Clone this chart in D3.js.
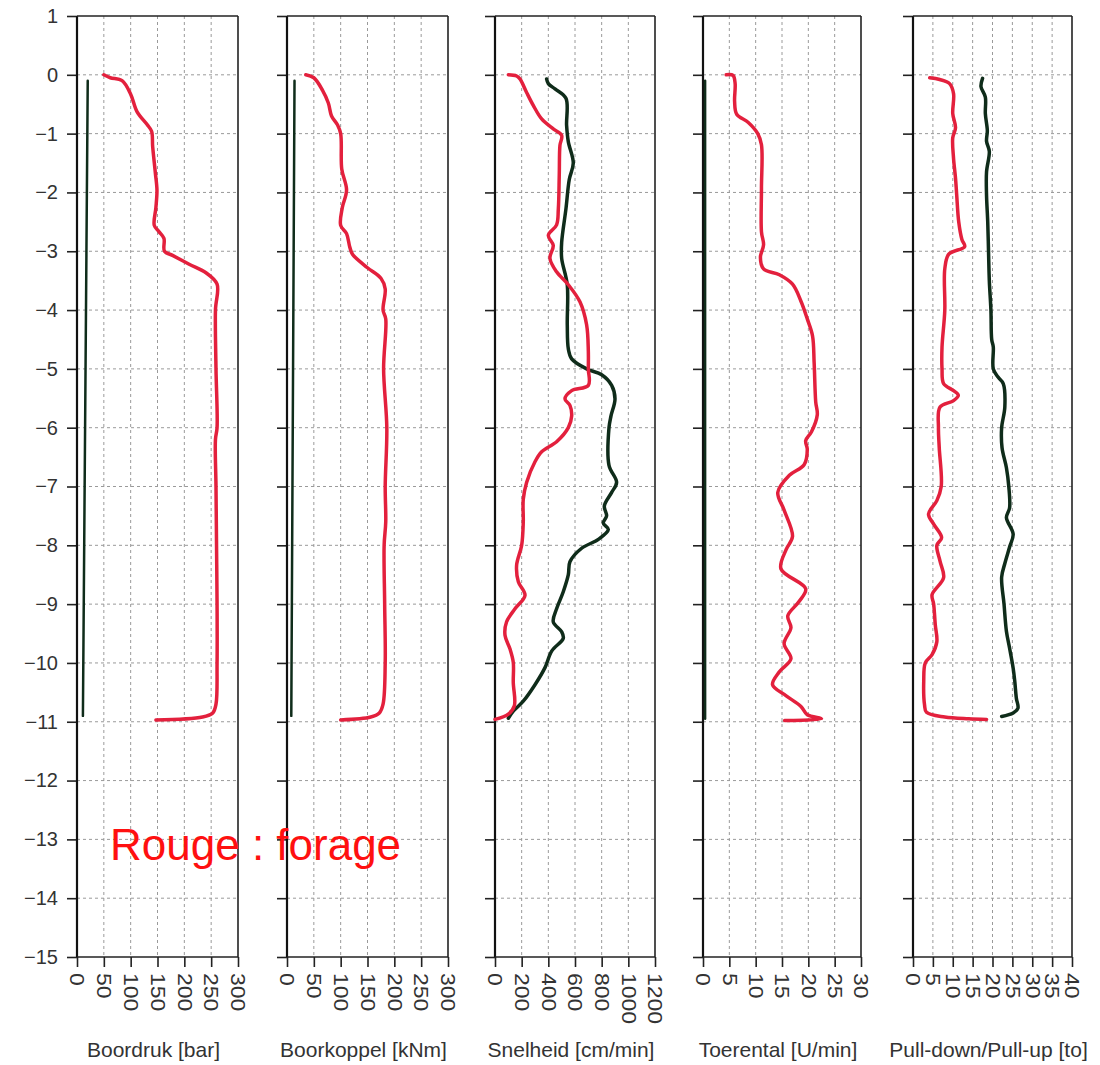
<!DOCTYPE html>
<html>
<head>
<meta charset="utf-8">
<script src="https://cdn.jsdelivr.net/npm/d3@7"></script>
<style>
  html, body { margin: 0; padding: 0; background: #fff; }
  svg { display: block; font-family: "Liberation Sans", Arial, sans-serif; }
  .grid line { stroke: #9a9a9a; stroke-width: 1; stroke-dasharray: 3,3; }
  .tk text { fill: #333; font-size: 19px; }
  .tk line, .tk path { stroke: #222; }
</style>
</head>
<body>
<svg id="chart" width="1100" height="1065"></svg>
<script>
// depth axis (m) shared by all five tracks
const depthTicks = [1, 0, -1, -2, -3, -4, -5, -6, -7, -8, -9, -10, -11, -12, -13, -14, -15];

// x tick labels per track
const drukTicks = [0, 50, 100, 150, 200, 250, 300];
const koppelTicks = [0, 50, 100, 150, 200, 250, 300];
const snelTicks = [0, 200, 400, 600, 800, 1000, 1200];
const toerTicks = [0, 5, 10, 15, 20, 25, 30];
const pullTicks = [0, 5, 10, 15, 20, 25, 30, 35, 40];

const titles = ['Boordruk [bar]', 'Boorkoppel [kNm]', 'Snelheid [cm/min]', 'Toerental [U/min]', 'Pull-down/Pull-up [to]'];

// [depth, value] pairs, red = forage (drilling), green = extraction
const drukRood = [[0,50],[-0.05,62],[-0.1,84],[-0.33,100],[-0.63,112],[-0.85,131],[-0.96,139],[-1.22,141],[-1.67,146],
  [-1.96,149],[-2.26,147],[-2.56,144],[-2.67,153],[-2.78,162],[-3.0,163],[-3.07,178],[-3.22,209],[-3.37,241],[-3.56,261],
  [-4.0,258],[-5.0,259],[-6.0,261],[-6.2,258],[-7.0,259],[-8.0,260],[-9.0,261],[-10.0,261],[-10.7,259],[-10.85,253],
  [-10.92,234],[-10.97,147]];
const drukGroen = [[-0.1,20],[-10.9,11]];

const koppelRood = [[0,35],[-0.05,50],[-0.26,66],[-0.48,77],[-0.7,83],[-0.85,94],[-1.0,100],[-1.6,102],[-1.96,111],
  [-2.26,103],[-2.56,100],[-2.7,111],[-2.93,117],[-3.05,122],[-3.28,150],[-3.46,175],[-3.64,183],[-4.0,179],[-4.15,184],
  [-5.0,180],[-6.0,186],[-7.0,183],[-7.6,184],[-8.0,181],[-9.0,182],[-10.0,183],[-10.7,179],[-10.85,172],[-10.92,156],
  [-10.97,100]];
const koppelGroen = [[-0.1,14],[-10.9,8]];

const snelRood = [[0,100],[-0.02,162],[-0.07,187],[-0.3,237],[-0.52,287],[-0.75,350],[-0.92,437],[-1.03,500],[-1.2,487],
  [-1.7,482],[-2.28,475],[-2.55,462],[-2.73,400],[-2.9,437],[-3.12,412],[-3.35,462],[-3.57,550],[-3.86,637],[-4.25,687],
  [-4.7,700],[-5.0,700],[-5.28,700],[-5.37,575],[-5.51,525],[-5.62,562],[-5.8,575],[-6.0,550],[-6.24,462],[-6.41,350],
  [-6.58,300],[-6.93,237],[-7.22,212],[-7.61,212],[-8.0,200],[-8.34,162],[-8.62,175],[-8.85,225],[-9.08,150],[-9.3,87],
  [-9.53,75],[-9.76,112],[-9.99,137],[-10.33,137],[-10.73,145],[-10.87,100],[-10.96,0]];
const snelGroen = [[-0.07,387],[-0.15,400],[-0.24,450],[-0.4,532],[-0.86,537],[-1.14,550],[-1.5,587],[-1.78,557],
  [-2.28,532],[-2.85,500],[-3.12,500],[-3.57,542],[-4.25,542],[-4.66,550],[-4.83,575],[-5.0,687],[-5.1,800],[-5.28,875],
  [-5.51,900],[-5.8,870],[-6.0,855],[-6.64,855],[-6.93,912],[-7.1,875],[-7.33,820],[-7.5,837],[-7.62,812],[-7.73,850],
  [-7.9,775],[-8.05,650],[-8.28,562],[-8.5,550],[-8.79,512],[-9.08,462],[-9.3,437],[-9.47,500],[-9.58,512],[-9.8,425],
  [-10.08,375],[-10.37,300],[-10.65,212],[-10.82,137],[-10.94,100]];

const toerRood = [[0,4.4],[-0.01,5.7],[-0.15,6.1],[-0.45,6.0],[-0.67,6.4],[-0.81,8.6],[-1.0,10.4],[-1.19,11.1],[-1.93,11.1],
  [-2.67,11.1],[-2.89,11.5],[-3.1,10.9],[-3.3,11.5],[-3.4,14.5],[-3.56,17],[-3.85,18.6],[-4.15,19.8],[-4.44,20.8],
  [-4.89,21.1],[-5.56,21.4],[-5.78,21.7],[-6.07,20.6],[-6.22,19.5],[-6.37,19.8],[-6.63,19.2],[-6.81,16.4],[-7.1,14.2],
  [-7.4,15.4],[-7.85,17],[-8.07,15.8],[-8.4,14.8],[-8.74,19.5],[-8.96,18.2],[-9.2,16.1],[-9.4,16.7],[-9.67,15.4],
  [-9.93,16.7],[-10.15,14.5],[-10.37,13.2],[-10.56,15.8],[-10.74,18.6],[-10.88,19.8],[-10.95,22.5],[-10.98,15.5]];
const toerGroen = [[-0.1,0.4],[-10.95,0.4]];

const pullRood = [[-0.05,4.2],[-0.08,6.7],[-0.15,9.2],[-0.32,10.2],[-0.66,10],[-0.9,10.7],[-1.07,10],[-1.42,10.2],
  [-1.76,10.7],[-2.05,11],[-2.5,11.5],[-2.8,12.3],[-2.92,13],[-3.05,9],[-3.3,8],[-4.0,8],[-4.63,7.3],[-5.0,7.3],
  [-5.25,7.7],[-5.37,10.2],[-5.45,11.4],[-5.54,10.2],[-5.65,6.8],[-6.0,6.4],[-6.34,6.6],[-7.0,7.1],[-7.24,6],[-7.47,3.9],
  [-7.64,5.2],[-7.87,7.2],[-8.0,6],[-8.27,6.8],[-8.55,7.7],[-8.84,4.8],[-9.0,5.2],[-9.35,5.6],[-9.64,6],[-9.86,4.8],
  [-10.0,3.1],[-10.31,2.7],[-10.71,2.9],[-10.84,3.4],[-10.92,8],[-10.95,14],[-10.96,18.5]];
const pullGroen = [[-0.06,17.5],[-0.2,17.1],[-0.38,18.2],[-0.66,18.2],[-0.95,18.7],[-1.13,18.5],[-1.3,19.2],[-1.65,18.5],
  [-2.05,18.5],[-2.5,18.8],[-3.0,19.0],[-3.5,19.2],[-4.0,19.6],[-4.5,19.8],[-4.63,20.2],[-5.0,20.2],[-5.14,21.4],
  [-5.25,22.7],[-5.65,23.1],[-6.0,22.3],[-6.34,22.4],[-6.68,23.5],[-7.0,24.1],[-7.36,24.3],[-7.53,23.5],[-7.81,25.2],
  [-8.03,24.3],[-8.31,23.1],[-8.54,22.3],[-9.0,22.9],[-9.46,23.5],[-9.75,24.3],[-10.09,25.2],[-10.31,25.6],[-10.6,26],
  [-10.77,26.4],[-10.85,25.2],[-10.91,22.3]];

const RED = '#e3203d', GREEN = '#0f2c1a';

// track layout: left/right pixel edges
const tracks = [
  { x0: 77,  x1: 238,  ticks: drukTicks,   red: drukRood,   green: drukGroen,   gw: 2.5 },
  { x0: 287, x1: 448,  ticks: koppelTicks, red: koppelRood, green: koppelGroen, gw: 2.5 },
  { x0: 495, x1: 655,  ticks: snelTicks,   red: snelRood,   green: snelGroen,   gw: 3.5 },
  { x0: 703, x1: 861,  ticks: toerTicks,   red: toerRood,   green: toerGroen,   gw: 2.5 },
  { x0: 913, x1: 1072, ticks: pullTicks,   red: pullRood,   green: pullGroen,   gw: 3.5 }
];

const svg = d3.select('#chart');
const y = d3.scaleLinear().domain([-15, 1]).range([957, 16]);

tracks.forEach((t, i) => {
  const x = d3.scaleLinear().domain([t.ticks[0], t.ticks[t.ticks.length - 1]]).range([t.x0, t.x1]);
  const g = svg.append('g');

  // dashed grid
  const grid = g.append('g').attr('class', 'grid');
  grid.selectAll('line.v').data(t.ticks.slice(1, -1)).join('line')
    .attr('x1', d => x(d)).attr('x2', d => x(d)).attr('y1', y(1)).attr('y2', y(-15));
  grid.selectAll('line.h').data(depthTicks.slice(1, -1)).join('line')
    .attr('x1', t.x0).attr('x2', t.x1).attr('y1', d => y(d)).attr('y2', d => y(d));

  // depth axis (labels only on first track)
  const ya = g.append('g').attr('class', 'tk').attr('transform', `translate(${t.x0},0)`)
    .call(d3.axisLeft(y).tickValues(depthTicks).tickSize(10).tickPadding(9)
      .tickFormat(i === 0 ? d3.format('d') : ''));
  ya.select('.domain').remove();
  ya.selectAll('line').attr('stroke-width', 1.6);
  ya.selectAll('text').style('font-size', '20px');

  // bottom value axis, rotated labels
  const xa = g.append('g').attr('class', 'tk').attr('transform', `translate(0,${y(-15)})`)
    .call(d3.axisBottom(x).tickValues(t.ticks).tickSize(10).tickFormat(d3.format('d')));
  xa.select('.domain').remove();
  xa.selectAll('line').attr('stroke-width', 1.6);
  xa.selectAll('text')
    .attr('y', 0).attr('x', 0).attr('dy', '0.36em')
    .attr('text-anchor', 'start')
    .style('font-size', '20px')
    .attr('transform', 'translate(0,16) rotate(90) scale(1.15,1)');

  // frame
  g.append('line').attr('x1', t.x0).attr('x2', t.x0).attr('y1', y(1)).attr('y2', y(-15))
    .attr('stroke', '#111').attr('stroke-width', 2.2);
  g.append('line').attr('x1', t.x1).attr('x2', t.x1).attr('y1', y(1)).attr('y2', y(-15))
    .attr('stroke', '#222').attr('stroke-width', 1.6);
  g.append('line').attr('x1', t.x0).attr('x2', t.x1).attr('y1', y(1)).attr('y2', y(1))
    .attr('stroke', '#222').attr('stroke-width', 1.6);
  g.append('line').attr('x1', t.x0).attr('x2', t.x1).attr('y1', y(-15)).attr('y2', y(-15))
    .attr('stroke', '#222').attr('stroke-width', 1.6);

  const line = d3.line().x(d => x(d[1])).y(d => y(d[0])).curve(d3.curveCatmullRom.alpha(0.5));
  g.append('path').attr('d', line(t.green)).attr('fill', 'none')
    .attr('stroke', GREEN).attr('stroke-width', t.gw).attr('stroke-linecap', 'round');
  g.append('path').attr('d', line(t.red)).attr('fill', 'none')
    .attr('stroke', RED).attr('stroke-width', 3.5).attr('stroke-linejoin', 'round').attr('stroke-linecap', 'round');

  g.append('text').attr('x', (t.x0 + t.x1) / 2 - 4).attr('y', 1057)
    .attr('text-anchor', 'middle').attr('fill', '#333').style('font-size', '21px')
    .text(titles[i]);
});

svg.append('text').attr('x', 110).attr('y', 860).attr('fill', '#ff1010')
  .style('font-size', '44px').text('Rouge : forage');
</script>
</body>
</html>
